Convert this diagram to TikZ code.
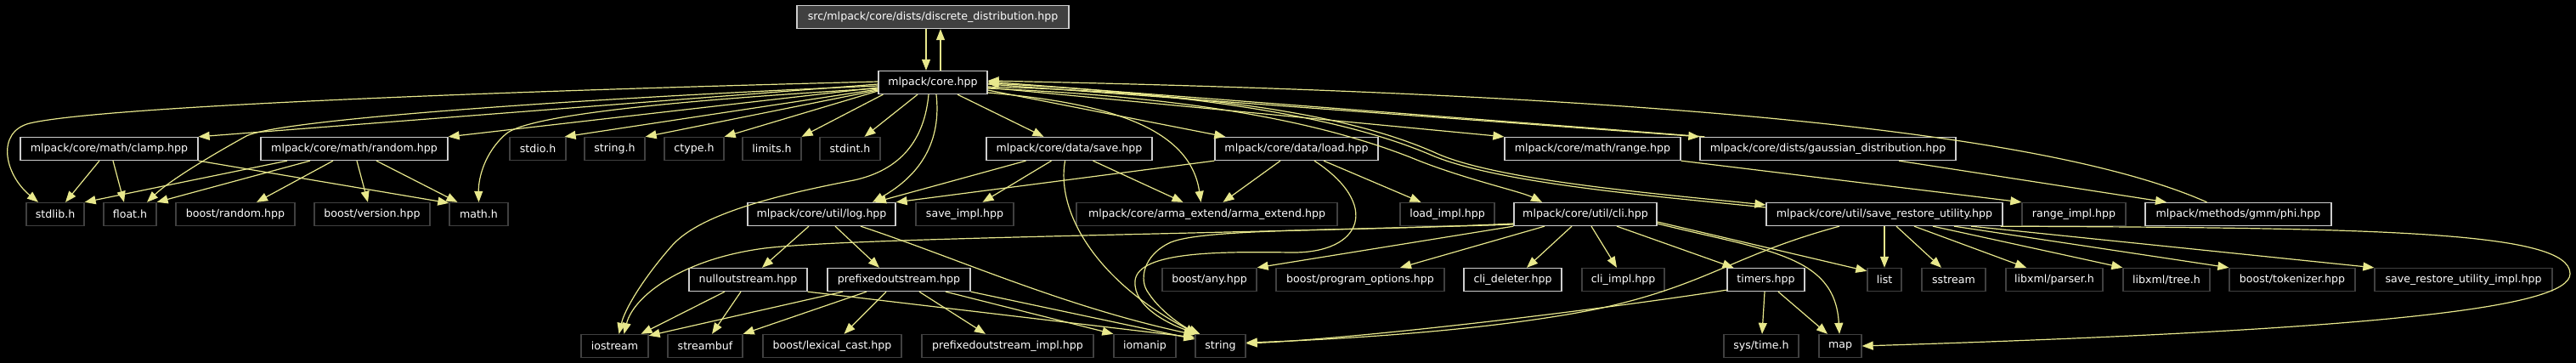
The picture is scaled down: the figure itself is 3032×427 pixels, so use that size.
\documentclass[tikz,border=0pt]{standalone}
\usepackage{fontspec}
\setmainfont{DejaVu Sans}
\usetikzlibrary{arrows.meta}
\definecolor{edgec}{RGB}{232,232,140}
\definecolor{docb}{RGB}{205,205,205}
\definecolor{extb}{RGB}{64,64,64}
\definecolor{srcfill}{RGB}{64,64,64}
\begin{document}
\begin{tikzpicture}[x=1pt,y=-1pt,
  box/.style={rectangle, minimum height=27pt, inner sep=0pt, text=white, font=\fontsize{12.6}{14}\selectfont, line width=1.3pt, fill=black},
  doc/.style={box, draw=docb},
  ext/.style={box, draw=extb},
  e/.style={draw=edgec, line width=1.2pt, -{Triangle[length=13pt,width=10pt]}}
]
\fill[black] (0,0) rectangle (3032,427);
\useasboundingbox (0,0) rectangle (3032,427);

% row 0/1
\node[doc, fill=srcfill, minimum width=320pt] (src) at (1098,20) {src/mlpack/core/dists/discrete\_distribution.hpp};
\node[doc, minimum width=128pt] (core) at (1098,97) {mlpack/core.hpp};
% row 2
\node[doc, minimum width=209pt] (clamp) at (128.5,175) {mlpack/core/math/clamp.hpp};
\node[doc, minimum width=220pt] (random) at (417,175) {mlpack/core/math/random.hpp};
\node[ext, minimum width=66pt] (stdio) at (633,175) {stdio.h};
\node[ext, minimum width=71pt] (stringh) at (723.5,175) {string.h};
\node[ext, minimum width=70pt] (ctype) at (817,175) {ctype.h};
\node[ext, minimum width=69pt] (limits) at (908.5,175) {limits.h};
\node[ext, minimum width=71pt] (stdint) at (1000.5,175) {stdint.h};
\node[doc, minimum width=195pt] (save) at (1258.5,175) {mlpack/core/data/save.hpp};
\node[doc, minimum width=192pt] (load) at (1526,175) {mlpack/core/data/load.hpp};
\node[doc, minimum width=207pt] (range) at (1874.5,175) {mlpack/core/math/range.hpp};
\node[doc, minimum width=301pt] (gauss) at (2151.5,175) {mlpack/core/dists/gaussian\_distribution.hpp};
% row 3
\node[ext, minimum width=68pt] (stdlib) at (65,252) {stdlib.h};
\node[ext, minimum width=62pt] (float) at (153,252) {float.h};
\node[ext, minimum width=140pt] (brandom) at (277,252) {boost/random.hpp};
\node[ext, minimum width=136pt] (bversion) at (438,252) {boost/version.hpp};
\node[ext, minimum width=69pt] (math) at (563.5,252) {math.h};
\node[doc, minimum width=174pt] (log) at (967,252) {mlpack/core/util/log.hpp};
\node[ext, minimum width=115pt] (saveimpl) at (1135.5,252) {save\_impl.hpp};
\node[ext, minimum width=307pt] (arma) at (1420.5,252) {mlpack/core/arma\_extend/arma\_extend.hpp};
\node[ext, minimum width=111pt] (loadimpl) at (1703.5,252) {load\_impl.hpp};
\node[doc, minimum width=168pt] (cli) at (1866,252) {mlpack/core/util/cli.hpp};
\node[doc, minimum width=278pt] (sru) at (2218,252) {mlpack/core/util/save\_restore\_utility.hpp};
\node[ext, minimum width=122pt] (rangeimpl) at (2441,252) {range\_impl.hpp};
\node[doc, minimum width=219pt] (phi) at (2634.5,252) {mlpack/methods/gmm/phi.hpp};
% row 4
\node[doc, minimum width=139pt] (nullout) at (880.5,329) {nulloutstream.hpp};
\node[doc, minimum width=168pt] (prefixed) at (1058,329) {prefixedoutstream.hpp};
\node[ext, minimum width=111pt] (bany) at (1423.5,329) {boost/any.hpp};
\node[ext, minimum width=198pt] (popts) at (1601,329) {boost/program\_options.hpp};
\node[doc, minimum width=115pt] (clidel) at (1780.5,329) {cli\_deleter.hpp};
\node[ext, minimum width=97pt] (cliimpl) at (1910.5,329) {cli\_impl.hpp};
\node[doc, minimum width=91pt] (timers) at (2078.5,329) {timers.hpp};
\node[ext, minimum width=40pt] (list) at (2218,329) {list};
\node[ext, minimum width=75pt] (sstream) at (2299.5,329) {sstream};
\node[ext, minimum width=114pt] (parser) at (2418,329) {libxml/parser.h};
\node[ext, minimum width=102pt] (tree) at (2550,329) {libxml/tree.h};
\node[ext, minimum width=148pt] (tokenizer) at (2698,329) {boost/tokenizer.hpp};
\node[ext, minimum width=209pt] (sruimpl) at (2899.5,329) {save\_restore\_utility\_impl.hpp};
% row 5
\node[ext, minimum width=79pt] (iostream) at (723.5,407) {iostream};
\node[ext, minimum width=88pt] (streambuf) at (830,407) {streambuf};
\node[ext, minimum width=163pt] (lexical) at (979.5,407) {boost/lexical\_cast.hpp};
\node[ext, minimum width=202pt] (pimpl) at (1186,407) {prefixedoutstream\_impl.hpp};
\node[ext, minimum width=73pt] (iomanip) at (1347.5,407) {iomanip};
\node[ext, minimum width=59pt] (string) at (1436.5,407) {string};
\node[ext, minimum width=88pt] (systime) at (2073,407) {sys/time.h};
\node[ext, minimum width=50pt] (map) at (2166,407) {map};

% src <-> core
\draw[e] ([xshift=-8pt]src.south) -- ([xshift=-8pt]core.north);
\draw[e] ([xshift=9pt]core.north) -- ([xshift=9pt]src.south);

% core, left fan
\draw[e] ([yshift=1pt]core.west) .. controls (600,107) and (120,125) .. (35,145) .. controls (-5,155) and (5,205) .. ([xshift=-20pt]stdlib.north);
\draw[e] ([yshift=-2pt]core.west) -- (clamp.north east);
\draw[e] ([yshift=-4pt]core.west) .. controls (700,115) and (330,140) .. (290,160) .. controls (250,182) and (200,212) .. ([xshift=20pt]float.north);
\draw[e] ([yshift=-6pt]core.west) -- (random.north east);
\draw[e] ([yshift=-7pt]core.west) .. controls (800,118) and (620,135) .. (595,158) .. controls (570,180) and (563,210) .. (math.north);
\draw[e] ([yshift=-8pt]core.west) -- ([xshift=-2pt]stdio.north east);
\draw[e] ([yshift=-9pt]core.west) -- (stringh.north east);
\draw[e] ([yshift=-10pt]core.west) -- (ctype.north east);
\draw[e] ([xshift=6pt]core.south west) -- (limits.north east);
\draw[e] ([xshift=-18pt]core.south) -- ([xshift=17pt]stdint.north);
\draw[e] ([xshift=-5pt]core.south) .. controls (1088,165) and (1060,200) .. (1005,212) .. controls (900,232) and (820,255) .. (790,290) .. controls (755,330) and (735,365) .. ([xshift=5pt]iostream.north);
\draw[e] ([xshift=4pt]core.south) .. controls (1108,165) and (1085,205) .. ([xshift=60pt]log.north);
\draw[e] ([xshift=29pt]core.south) -- ([xshift=-30pt]save.north);

% core, right fan
\draw[e] ([yshift=-12pt]core.east) .. controls (1290,120) and (1400,145) .. ([xshift=-7pt]arma.north);
\draw[e] ([yshift=-9pt]core.east) -- ([xshift=13pt]load.north west);
\draw[e] ([yshift=-6pt]core.east) -- (range.north west);
\draw[e] ([yshift=-2pt]core.east) -- (gauss.north west);
\draw[e] ([xshift=6pt]gauss.north west) -- ([yshift=1pt]core.east);
\draw[e] ([yshift=-7pt]core.east) .. controls (1430,115) and (1570,150) .. (1660,185) .. controls (1720,210) and (1790,225) .. ([xshift=-51pt]cli.north);
\draw[e] ([yshift=-5pt]core.east) .. controls (1450,110) and (1600,140) .. (1690,180) .. controls (1760,212) and (1950,228) .. ([yshift=11pt]sru.west);
\draw[e] ([yshift=8pt]sru.west) .. controls (1950,231) and (1765,216) .. (1686,183) .. controls (1605,148) and (1460,113) .. ([yshift=-1pt]core.east);
\draw[e] ([xshift=-37pt]phi.north) .. controls (2400,150) and (1900,110) .. ([yshift=2pt]core.east);

% clamp / random
\draw[e] ([xshift=-11.5pt]clamp.south) -- ([xshift=12pt]stdlib.north);
\draw[e] ([xshift=4.5pt]clamp.south) -- ([xshift=-7pt]float.north);
\draw[e] (clamp.south east) -- ([yshift=-1pt]math.north west);
\draw[e] ([xshift=-79pt]random.south) -- (stdlib.north east);
\draw[e] ([xshift=-52pt]random.south) -- (float.north east);
\draw[e] ([xshift=-25pt]random.south) -- ([xshift=25pt]brandom.north);
\draw[e] ([xshift=3pt]random.south) -- ([xshift=-5pt]bversion.north);
\draw[e] ([xshift=26pt]random.south) -- ([xshift=-25pt]math.north);

% save / load
\draw[e] ([xshift=-51pt]save.south) -- ([xshift=63pt]log.north);
\draw[e] (load.south west) -- (log.north east);
\draw[e] ([xshift=-21pt]save.south) -- ([xshift=21pt]saveimpl.north);
\draw[e] ([xshift=28pt]save.south) -- ([xshift=-28pt]arma.north);
\draw[e] ([xshift=-5pt]save.south) .. controls (1243,250) and (1290,330) .. ([xshift=2pt]string.north west);
\draw[e] ([xshift=-19pt]load.south) -- ([xshift=19pt]arma.north);
\draw[e] ([xshift=32pt]load.south) -- ([xshift=-31pt]loadimpl.north);
\draw[e] ([xshift=21pt]load.south) .. controls (1625,240) and (1605,298) .. (1520,297) .. controls (1440,296) and (1340,295) .. (1336,330) .. controls (1333,362) and (1380,383) .. ([xshift=4pt]string.north west);

% range / gaussian
\draw[e] (range.south east) -- (rangeimpl.north west);
\draw[e] ([xshift=83.5pt]gauss.south) -- ([xshift=-84.5pt]phi.north);

% cli
\draw[e] ([yshift=-11pt]cli.west) .. controls (1600,272) and (1420,268) .. (1378,285) .. controls (1345,300) and (1340,330) .. (1352,345) .. controls (1365,365) and (1390,383) .. ([xshift=6pt]string.north west);
\draw[e] ([yshift=-12pt]cli.west) .. controls (1400,276) and (1000,280) .. (900,292) .. controls (800,305) and (745,350) .. ([xshift=11pt]iostream.north);
\draw[e] (cli.south west) -- (bany.north east);
\draw[e] ([xshift=-48pt]cli.south) -- ([xshift=47pt]popts.north);
\draw[e] ([xshift=-16pt]cli.south) -- ([xshift=16.5pt]clidel.north);
\draw[e] ([xshift=7pt]cli.south) -- ([xshift=-7.5pt]cliimpl.north);
\draw[e] ([xshift=37pt]cli.south) -- ([xshift=-38pt]timers.north);
\draw[e] ([yshift=-9pt]cli.east) -- ([yshift=-4pt]list.north west);
\draw[e] ([yshift=-11pt]cli.east) .. controls (2080,295) and (2160,300) .. ([xshift=-1pt]map.north);

% timers
\draw[e] ([xshift=-1.5pt]timers.south) -- ([xshift=1pt]systime.north);
\draw[e] ([xshift=14.5pt]timers.south) -- ([xshift=-15pt]map.north);
\draw[e] ([yshift=2pt]timers.south west) .. controls (1880,365) and (1600,398) .. ([yshift=3pt]string.east);

% save_restore_utility
\draw[e] ([xshift=-53pt]sru.south) .. controls (2040,300) and (2010,335) .. (1882,363) .. controls (1750,390) and (1560,400) .. ([yshift=4pt]string.east);
\draw[e] (sru.south) -- (list.north);
\draw[e] ([xshift=14pt]sru.south) -- ([xshift=-14.5pt]sstream.north);
\draw[e] ([xshift=35pt]sru.south) -- ([xshift=-33pt]parser.north);
\draw[e] ([xshift=57pt]sru.south) -- (tree.north west);
\draw[e] ([xshift=82pt]sru.south) -- (tokenizer.north west);
\draw[e] ([xshift=102pt]sru.south) -- (sruimpl.north west);
\draw[e] ([xshift=-3pt]sru.south east) .. controls (2800,268) and (3025,272) .. (3025,322) .. controls (3025,362) and (2800,388) .. (map.east);

% log
\draw[e] ([xshift=-15pt]log.south) -- ([xshift=16.5pt]nullout.north);
\draw[e] ([xshift=16pt]log.south) -- ([xshift=-23pt]prefixed.north);
\draw[e] ([xshift=46pt]log.south) .. controls (1130,305) and (1250,360) .. ([yshift=-1pt]string.north west);

% nulloutstream
\draw[e] ([xshift=-27.5pt]nullout.south) -- ([xshift=31pt]iostream.north);
\draw[e] ([xshift=-8.5pt]nullout.south) -- ([xshift=8pt]streambuf.north);
\draw[e] (nullout.south east) -- ([yshift=10pt]string.west);

% prefixedoutstream
\draw[e] ([xshift=-66pt]prefixed.south) -- ([yshift=-2pt]iostream.north east);
\draw[e] ([xshift=-38pt]prefixed.south) -- (streambuf.north east);
\draw[e] ([xshift=-15pt]prefixed.south) -- ([xshift=14pt]lexical.north);
\draw[e] ([xshift=24pt]prefixed.south) -- ([xshift=-26pt]pimpl.north);
\draw[e] ([xshift=55pt]prefixed.south) -- (iomanip.north west);
\draw[e] (prefixed.south east) -- ([yshift=8pt]string.west);
\end{tikzpicture}
\end{document}
